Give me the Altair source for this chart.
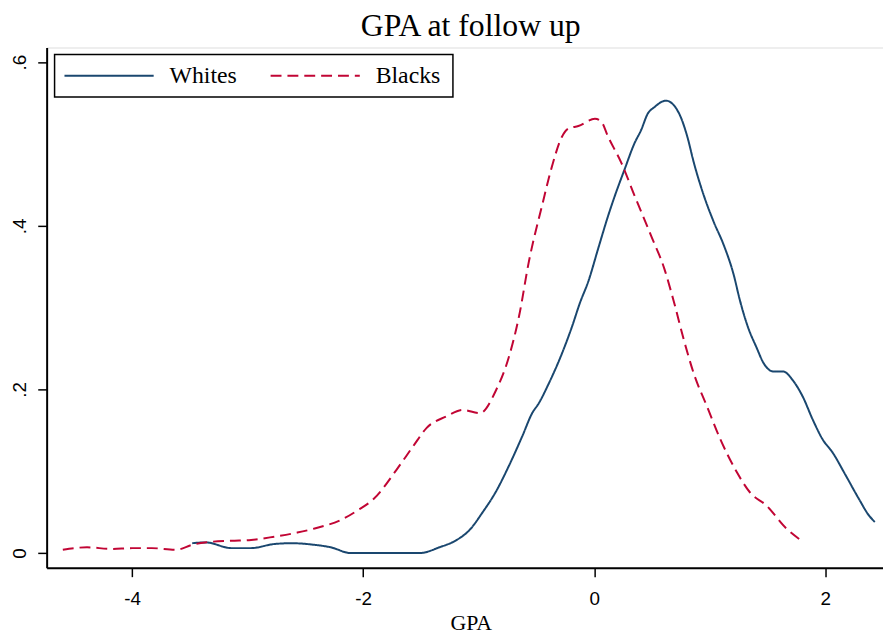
import altair as alt
import pandas as pd

# Whites (solid navy)
whites_x = [-3.48, -3.365, -3.14, -2.97, -2.77, -2.62, -2.42, -2.28, -2.11, -1.99, -1.75, -1.51, -1.34,
            -1.19, -1.08, -0.965, -0.851, -0.737, -0.622, -0.537, -0.48, -0.394, -0.279, -0.194, -0.123,
            -0.051, 0.034, 0.12, 0.177, 0.263, 0.349, 0.406, 0.463, 0.52, 0.621, 0.692, 0.749, 0.806,
            0.863, 0.949, 1.034, 1.12, 1.206, 1.263, 1.334, 1.406, 1.463, 1.549, 1.635, 1.72, 1.806,
            1.892, 1.977, 2.063, 2.177, 2.292, 2.378, 2.429]
whites_y = [0.012, 0.013, 0.006, 0.006, 0.011, 0.012, 0.010, 0.007, 0.0, 0.0, 0.0, 0.0, 0.007,
            0.016, 0.028, 0.050, 0.075, 0.107, 0.143, 0.171, 0.183, 0.207, 0.244, 0.276, 0.306,
            0.332, 0.372, 0.412, 0.436, 0.469, 0.501, 0.517, 0.537, 0.545, 0.553, 0.547, 0.533, 0.509,
            0.477, 0.437, 0.405, 0.377, 0.341, 0.308, 0.275, 0.251, 0.233, 0.222, 0.222, 0.211, 0.191,
            0.163, 0.139, 0.123, 0.095, 0.066, 0.046, 0.038]

# Blacks (dashed cranberry)
blacks_x = [-4.60, -4.39, -4.18, -4.00, -3.83, -3.62, -3.48, -3.37, -3.14, -2.97, -2.77, -2.57, -2.42,
            -2.17, -2.05, -1.91, -1.71, -1.565, -1.45, -1.28, -1.14, -0.99, -0.85, -0.74, -0.65,
            -0.566, -0.451, -0.365, -0.279, -0.223, -0.137, 0.006, 0.063, 0.12, 0.235, 0.349, 0.492,
            0.606, 0.692, 0.777, 0.863, 0.977, 1.092, 1.234, 1.349, 1.491, 1.663, 1.806]
blacks_y = [0.004, 0.007, 0.005, 0.006, 0.006, 0.004, 0.010, 0.013, 0.015, 0.016, 0.020, 0.025, 0.030,
            0.042, 0.052, 0.066, 0.102, 0.131, 0.153, 0.167, 0.175, 0.171, 0.199, 0.239, 0.290,
            0.356, 0.425, 0.473, 0.509, 0.519, 0.522, 0.531, 0.527, 0.509, 0.477, 0.437, 0.388,
            0.348, 0.306, 0.260, 0.219, 0.179, 0.139, 0.099, 0.074, 0.058, 0.030, 0.014]

series_names = ["Whites", "Blacks"]
series_colors = ["#1a476f", "#c10534"]
series_dash = [[1, 0], [11, 6]]
x_ticks = [-4, -2, 0, 2]
y_ticks = [0, 0.2, 0.4, 0.6]

df = pd.concat([
    pd.DataFrame({"GPA": whites_x, "density": whites_y, "group": "Whites", "order": range(len(whites_x))}),
    pd.DataFrame({"GPA": blacks_x, "density": blacks_y, "group": "Blacks", "order": range(len(blacks_x))}),
])

sans = "Liberation Sans"
serif = "Liberation Serif"

lines = alt.Chart(df).mark_line(strokeWidth=2, interpolate="monotone").encode(
    x=alt.X("GPA:Q", scale=alt.Scale(domain=[-4.74, 2.5], nice=False, zero=False),
            axis=alt.Axis(values=x_ticks, title="GPA", grid=False, tickSize=9,
                          labelExpr="'' + datum.value",
                          labelFont=sans, labelFontSize=19, labelPadding=13,
                          titleFont=serif, titleFontSize=22, titleFontWeight="normal",
                          titlePadding=4, titleX=428, domainColor="black", domainWidth=2,
                          tickColor="black", tickWidth=1.5, labelColor="black", titleColor="black")),
    y=alt.Y("density:Q", scale=alt.Scale(domain=[-0.018, 0.618], nice=False, zero=False),
            axis=alt.Axis(values=y_ticks, title=None, grid=False, tickSize=9,
                          labelExpr="datum.value == 0 ? '0' : replace(format(datum.value, '.1f'), '0.', '.')",
                          labelFont=sans, labelFontSize=19, labelAngle=270, labelAlign="center",
                          labelBaseline="bottom", labelPadding=8,
                          domainColor="black", domainWidth=2, tickColor="black", tickWidth=1.5,
                          labelColor="black")),
    color=alt.Color("group:N", scale=alt.Scale(domain=series_names, range=series_colors), legend=None),
    strokeDash=alt.StrokeDash("group:N", scale=alt.Scale(domain=series_names, range=series_dash),
                              legend=None),
    detail="group:N",
    order="order:Q",
)

# Manual legend box (pixel positions relative to plot area)
legend_box = alt.Chart(pd.DataFrame({"k": [0]})).mark_rect(
    fill="white", stroke="black", strokeWidth=1.5
).encode(x=alt.value(8), x2=alt.value(410), y=alt.value(7), y2=alt.value(50))

legend_layers = [legend_box]
sym_x = [18, 226]
for i, name in enumerate(series_names):
    legend_layers.append(
        alt.Chart(pd.DataFrame({"k": [0]})).mark_rule(
            color=series_colors[i], strokeWidth=2, strokeDash=series_dash[i]
        ).encode(x=alt.value(sym_x[i]), x2=alt.value(sym_x[i] + 90), y=alt.value(28.5))
    )
    legend_layers.append(
        alt.Chart(pd.DataFrame({"k": [0]})).mark_text(
            text=name, font=serif, fontSize=24, align="left", baseline="middle", color="black"
        ).encode(x=alt.value(sym_x[i] + 106), y=alt.value(29))
    )

chart = alt.layer(lines, *legend_layers).properties(
    width=844,
    height=525,
    title=alt.Title("GPA at follow up", font=serif, fontSize=32, fontWeight="normal",
                    color="black", anchor="middle", offset=5, dx=6),
    autosize=alt.AutoSizeParams(type="none"),
    padding={"left": 39, "top": 37, "right": 0, "bottom": 66},
).configure_view(stroke="#444", strokeWidth=1.5).configure(background="white")

chart.save("out.html", embed_options={"renderer": "svg", "actions": False})
